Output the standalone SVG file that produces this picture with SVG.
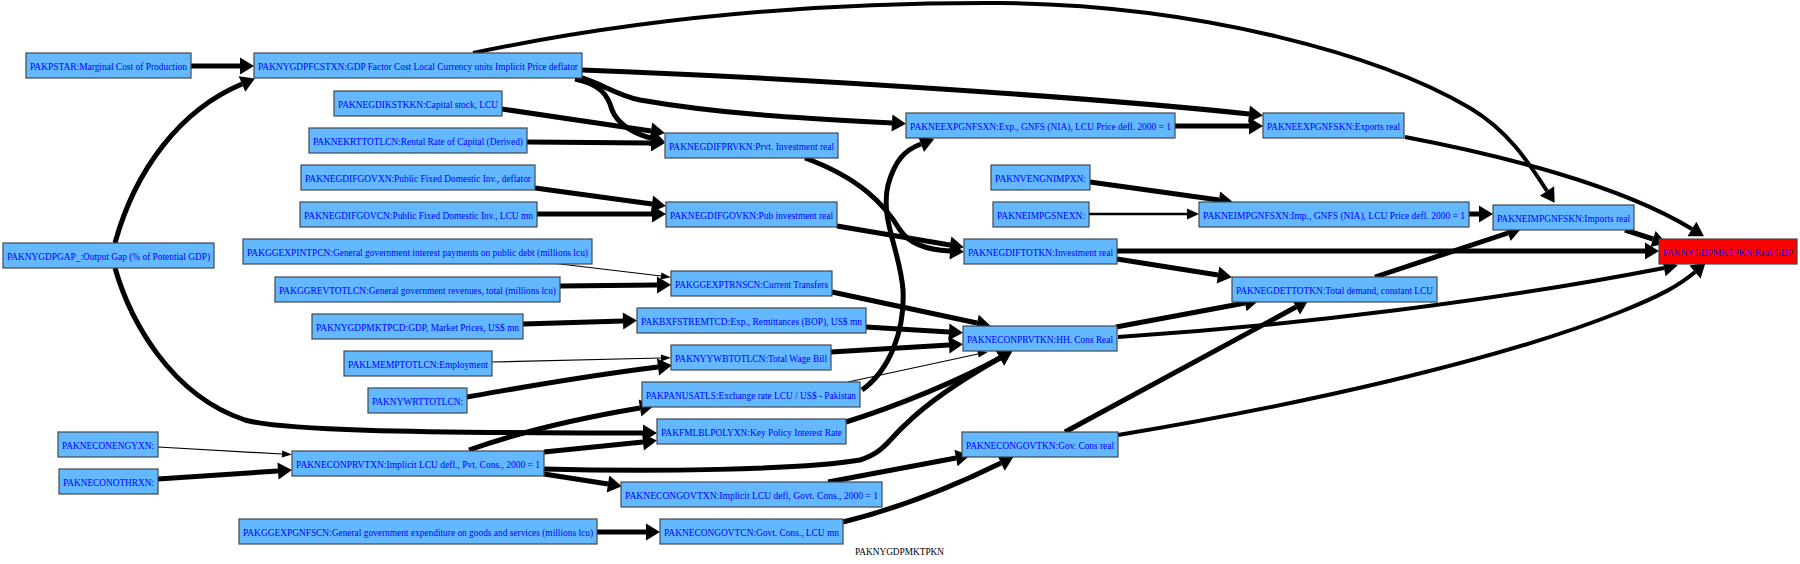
<svg xmlns="http://www.w3.org/2000/svg" width="1800" height="564" viewBox="0 0 1800 564">
<style>
.n rect{fill:#63b8ff;stroke:#404850;stroke-width:1.2}
.n.r rect{fill:#ff0000}
.n text{font-family:"Liberation Serif","Times New Roman",serif;font-size:10px;fill:#0000ff;text-anchor:middle}
#edges path{fill:none;stroke:#000;stroke-linecap:butt}
#edges .t5{stroke-width:5;marker-end:url(#ab)}
#edges .t4{stroke-width:4;marker-end:url(#ab)}
#edges .t2{stroke-width:2.5;marker-end:url(#am)}
#edges .t1{stroke-width:1.2;marker-end:url(#as)}
.title{font-family:"Liberation Serif","Times New Roman",serif;font-size:10px;fill:#000}
</style>
<defs>
<marker id="ab" markerUnits="userSpaceOnUse" markerWidth="16" markerHeight="18" refX="0" refY="8.5" orient="auto" overflow="visible"><path d="M0,0 L14,8.5 L0,17 Z" fill="#000"/></marker>
<marker id="am" markerUnits="userSpaceOnUse" markerWidth="13" markerHeight="12" refX="0" refY="5.5" orient="auto" overflow="visible"><path d="M0,0 L12,5.5 L0,11 Z" fill="#000"/></marker>
<marker id="as" markerUnits="userSpaceOnUse" markerWidth="11" markerHeight="8" refX="0" refY="3.5" orient="auto" overflow="visible"><path d="M0,0 L10,3.5 L0,7 Z" fill="#000"/></marker>
</defs>
<rect width="1800" height="564" fill="#fff"/>
<g id="edges">
<path class="t5" d="M191,66 L240,66"/>
<path class="t5" d="M115,243 C135,170 180,110 242,84"/>
<path class="t5" d="M115,268 C130,320 170,395 245,420 C280,430 400,433 643,433"/>
<path class="t4" d="M473,53 C620,22 800,2 1000,3 C1200,5 1380,55 1470,108 C1510,132 1530,165 1547,191"/>
<path class="t5" d="M582,70 C800,78 1100,98 1249,114"/>
<path class="t5" d="M578,77 C600,82 615,95 640,100 C720,114 800,118 892,123"/>
<path class="t5" d="M575,79 C600,84 608,95 612,110 C618,125 635,134 651,138"/>
<path class="t5" d="M502,109 L651,131"/>
<path class="t5" d="M527,142 L651,143"/>
<path class="t5" d="M535,188 L652,204"/>
<path class="t5" d="M537,214 L652,214"/>
<path class="t5" d="M805,158 C860,178 885,205 900,230 C910,245 930,250 950,251"/>
<path class="t5" d="M837,226 L950,245"/>
<path class="t5" d="M1117,251 L1645,251"/>
<path class="t5" d="M1117,259 L1218,275"/>
<path class="t5" d="M1175,126 L1249,126"/>
<path class="t4" d="M1405,137 C1500,155 1620,185 1692,229"/>
<path class="t5" d="M1090,182 L1219,200"/>
<path class="t2" d="M1089,214 L1187,214"/>
<path class="t5" d="M1469,214 L1479,214"/>
<path class="t5" d="M1625,230 L1653,239"/>
<path class="t5" d="M1375,277 L1508,233"/>
<path class="t5" d="M1116,327 L1245,303"/>
<path class="t4" d="M1118,337 C1300,325 1500,300 1664,268"/>
<path class="t5" d="M1065,432 L1296,307"/>
<path class="t4" d="M1118,435 C1300,405 1500,360 1620,312 C1660,296 1680,285 1695,272"/>
<path class="t1" d="M552,263 L661,276"/>
<path class="t5" d="M560,286 L657,285"/>
<path class="t5" d="M832,292 L977,323"/>
<path class="t5" d="M523,324 L623,321"/>
<path class="t5" d="M866,327 L949,332"/>
<path class="t5" d="M831,352 L949,345"/>
<path class="t1" d="M492,362 L661,358"/>
<path class="t5" d="M467,397 C520,388 570,378 658,367"/>
<path class="t5" d="M862,390 C890,370 905,330 903,290 C900,250 880,220 888,185 C895,160 905,150 921,144"/>
<path class="t1" d="M848,382 L978,354"/>
<path class="t5" d="M846,422 C900,405 960,380 1000,358"/>
<path class="t5" d="M544,469 C650,472 800,470 860,460 C885,452 890,438 905,425 C930,400 970,375 1000,358"/>
<path class="t1" d="M158,447 L282,454"/>
<path class="t5" d="M158,479 L278,471"/>
<path class="t5" d="M469,450 C520,432 580,418 640,408"/>
<path class="t5" d="M544,452 L643,442"/>
<path class="t5" d="M544,474 L608,484"/>
<path class="t5" d="M828,482 L956,458"/>
<path class="t5" d="M843,522 C900,508 950,488 1001,463"/>
<path class="t5" d="M597,532 L646,532"/>
</g>
<g id="PAKPSTAR" class="n"><rect x="26" y="53" width="165" height="25"/><text x="108.5" y="69.5" textLength="157" lengthAdjust="spacingAndGlyphs">PAKPSTAR:Marginal Cost of Production</text></g>
<g id="PAKNYGDPFCSTXN" class="n"><rect x="254" y="53" width="328" height="25"/><text x="418" y="69.5" textLength="320" lengthAdjust="spacingAndGlyphs">PAKNYGDPFCSTXN:GDP Factor Cost Local Currency units Implicit Price deflator</text></g>
<g id="PAKNYGDPGAP_" class="n"><rect x="3" y="243" width="211" height="25"/><text x="108.5" y="259.5" textLength="203" lengthAdjust="spacingAndGlyphs">PAKNYGDPGAP_:Output Gap (% of Potential GDP)</text></g>
<g id="PAKNEGDIKSTKKN" class="n"><rect x="334" y="91" width="168" height="25"/><text x="418" y="107.5" textLength="160" lengthAdjust="spacingAndGlyphs">PAKNEGDIKSTKKN:Capital stock, LCU</text></g>
<g id="PAKNEKRTTOTLCN" class="n"><rect x="309" y="128" width="218" height="25"/><text x="418" y="144.5" textLength="210" lengthAdjust="spacingAndGlyphs">PAKNEKRTTOTLCN:Rental Rate of Capital (Derived)</text></g>
<g id="PAKNEGDIFGOVXN" class="n"><rect x="301" y="165" width="234" height="25"/><text x="418" y="181.5" textLength="226" lengthAdjust="spacingAndGlyphs">PAKNEGDIFGOVXN:Public Fixed Domestic Inv., deflator</text></g>
<g id="PAKNEGDIFGOVCN" class="n"><rect x="300" y="202" width="237" height="25"/><text x="418.5" y="218.5" textLength="229" lengthAdjust="spacingAndGlyphs">PAKNEGDIFGOVCN:Public Fixed Domestic Inv., LCU mn</text></g>
<g id="PAKGGEXPINTPCN" class="n"><rect x="243" y="239" width="349" height="25"/><text x="417.5" y="255.5" textLength="341" lengthAdjust="spacingAndGlyphs">PAKGGEXPINTPCN:General government interest payments on public debt (millions lcu)</text></g>
<g id="PAKGGREVTOTLCN" class="n"><rect x="275" y="277" width="285" height="25"/><text x="417.5" y="293.5" textLength="277" lengthAdjust="spacingAndGlyphs">PAKGGREVTOTLCN:General government revenues, total (millions lcu)</text></g>
<g id="PAKNYGDPMKTPCD" class="n"><rect x="312" y="314" width="211" height="25"/><text x="417.5" y="330.5" textLength="203" lengthAdjust="spacingAndGlyphs">PAKNYGDPMKTPCD:GDP, Market Prices, US$ mn</text></g>
<g id="PAKLMEMPTOTLCN" class="n"><rect x="344" y="351" width="148" height="25"/><text x="418" y="367.5" textLength="140" lengthAdjust="spacingAndGlyphs">PAKLMEMPTOTLCN:Employment</text></g>
<g id="PAKNYWRTTOTLCN" class="n"><rect x="368" y="388" width="99" height="25"/><text x="417.5" y="404.5" textLength="91" lengthAdjust="spacingAndGlyphs">PAKNYWRTTOTLCN:</text></g>
<g id="PAKNECONENGYXN" class="n"><rect x="58" y="432" width="100" height="25"/><text x="108" y="448.5" textLength="92" lengthAdjust="spacingAndGlyphs">PAKNECONENGYXN:</text></g>
<g id="PAKNECONOTHRXN" class="n"><rect x="59" y="469" width="99" height="25"/><text x="108.5" y="485.5" textLength="91" lengthAdjust="spacingAndGlyphs">PAKNECONOTHRXN:</text></g>
<g id="PAKNECONPRVTXN" class="n"><rect x="292" y="451" width="252" height="25"/><text x="418" y="467.5" textLength="244" lengthAdjust="spacingAndGlyphs">PAKNECONPRVTXN:Implicit LCU defl., Pvt. Cons., 2000 = 1</text></g>
<g id="PAKGGEXPGNFSCN" class="n"><rect x="239" y="519" width="358" height="25"/><text x="418" y="535.5" textLength="350" lengthAdjust="spacingAndGlyphs">PAKGGEXPGNFSCN:General government expenditure on goods and services (millions lcu)</text></g>
<g id="PAKNEGDIFPRVKN" class="n"><rect x="665" y="133" width="173" height="25"/><text x="751.5" y="149.5" textLength="165" lengthAdjust="spacingAndGlyphs">PAKNEGDIFPRVKN:Prvt. Investment real</text></g>
<g id="PAKNEGDIFGOVKN" class="n"><rect x="666" y="202" width="171" height="25"/><text x="751.5" y="218.5" textLength="163" lengthAdjust="spacingAndGlyphs">PAKNEGDIFGOVKN:Pub investment real</text></g>
<g id="PAKGGEXPTRNSCN" class="n"><rect x="671" y="271" width="161" height="25"/><text x="751.5" y="287.5" textLength="153" lengthAdjust="spacingAndGlyphs">PAKGGEXPTRNSCN:Current Transfers</text></g>
<g id="PAKBXFSTREMTCD" class="n"><rect x="637" y="308" width="229" height="25"/><text x="751.5" y="324.5" textLength="221" lengthAdjust="spacingAndGlyphs">PAKBXFSTREMTCD:Exp., Remittances (BOP), US$ mn</text></g>
<g id="PAKNYYWBTOTLCN" class="n"><rect x="671" y="345" width="160" height="25"/><text x="751" y="361.5" textLength="152" lengthAdjust="spacingAndGlyphs">PAKNYYWBTOTLCN:Total Wage Bill</text></g>
<g id="PAKPANUSATLS" class="n"><rect x="642" y="382" width="218" height="25"/><text x="751" y="398.5" textLength="210" lengthAdjust="spacingAndGlyphs">PAKPANUSATLS:Exchange rate LCU / US$ - Pakistan</text></g>
<g id="PAKFMLBLPOLYXN" class="n"><rect x="657" y="419" width="189" height="25"/><text x="751.5" y="435.5" textLength="181" lengthAdjust="spacingAndGlyphs">PAKFMLBLPOLYXN:Key Policy Interest Rate</text></g>
<g id="PAKNECONGOVTXN" class="n"><rect x="621" y="482" width="261" height="25"/><text x="751.5" y="498.5" textLength="253" lengthAdjust="spacingAndGlyphs">PAKNECONGOVTXN:Implicit LCU defl, Govt. Cons., 2000 = 1</text></g>
<g id="PAKNECONGOVTCN" class="n"><rect x="660" y="519" width="183" height="25"/><text x="751.5" y="535.5" textLength="175" lengthAdjust="spacingAndGlyphs">PAKNECONGOVTCN:Govt. Cons., LCU mn</text></g>
<g id="PAKNEEXPGNFSXN" class="n"><rect x="906" y="113" width="269" height="25"/><text x="1040.5" y="129.5" textLength="261" lengthAdjust="spacingAndGlyphs">PAKNEEXPGNFSXN:Exp., GNFS (NIA), LCU Price defl. 2000 = 1</text></g>
<g id="PAKNVENGNIMPXN" class="n"><rect x="991" y="165" width="99" height="25"/><text x="1040.5" y="181.5" textLength="91" lengthAdjust="spacingAndGlyphs">PAKNVENGNIMPXN:</text></g>
<g id="PAKNEIMPGSNEXN" class="n"><rect x="993" y="202" width="96" height="25"/><text x="1041" y="218.5" textLength="88" lengthAdjust="spacingAndGlyphs">PAKNEIMPGSNEXN:</text></g>
<g id="PAKNEGDIFTOTKN" class="n"><rect x="964" y="239" width="153" height="25"/><text x="1040.5" y="255.5" textLength="145" lengthAdjust="spacingAndGlyphs">PAKNEGDIFTOTKN:Investment real</text></g>
<g id="PAKNECONPRVTKN" class="n"><rect x="963" y="326" width="154" height="25"/><text x="1040" y="342.5" textLength="146" lengthAdjust="spacingAndGlyphs">PAKNECONPRVTKN:HH. Cons Real</text></g>
<g id="PAKNECONGOVTKN" class="n"><rect x="962" y="432" width="156" height="25"/><text x="1040" y="448.5" textLength="148" lengthAdjust="spacingAndGlyphs">PAKNECONGOVTKN:Gov. Cons real</text></g>
<g id="PAKNEEXPGNFSKN" class="n"><rect x="1263" y="113" width="141" height="25"/><text x="1333.5" y="129.5" textLength="133" lengthAdjust="spacingAndGlyphs">PAKNEEXPGNFSKN:Exports real</text></g>
<g id="PAKNEIMPGNFSXN" class="n"><rect x="1199" y="202" width="270" height="25"/><text x="1334" y="218.5" textLength="262" lengthAdjust="spacingAndGlyphs">PAKNEIMPGNFSXN:Imp., GNFS (NIA), LCU Price defl. 2000 = 1</text></g>
<g id="PAKNEIMPGNFSKN" class="n"><rect x="1493" y="205" width="141" height="25"/><text x="1563.5" y="221.5" textLength="133" lengthAdjust="spacingAndGlyphs">PAKNEIMPGNFSKN:Imports real</text></g>
<g id="PAKNEGDETTOTKN" class="n"><rect x="1232" y="277" width="205" height="25"/><text x="1334.5" y="293.5" textLength="197" lengthAdjust="spacingAndGlyphs">PAKNEGDETTOTKN:Total demand, constant LCU</text></g>
<g id="PAKNYGDPMKTPKN" class="n r"><rect x="1659" y="239" width="138" height="25"/><text x="1728" y="255.5" textLength="130" lengthAdjust="spacingAndGlyphs">PAKNYGDPMKTPKN:Real GDP</text></g>
<text class="title" x="855" y="555" textLength="89" lengthAdjust="spacingAndGlyphs">PAKNYGDPMKTPKN</text>
</svg>
